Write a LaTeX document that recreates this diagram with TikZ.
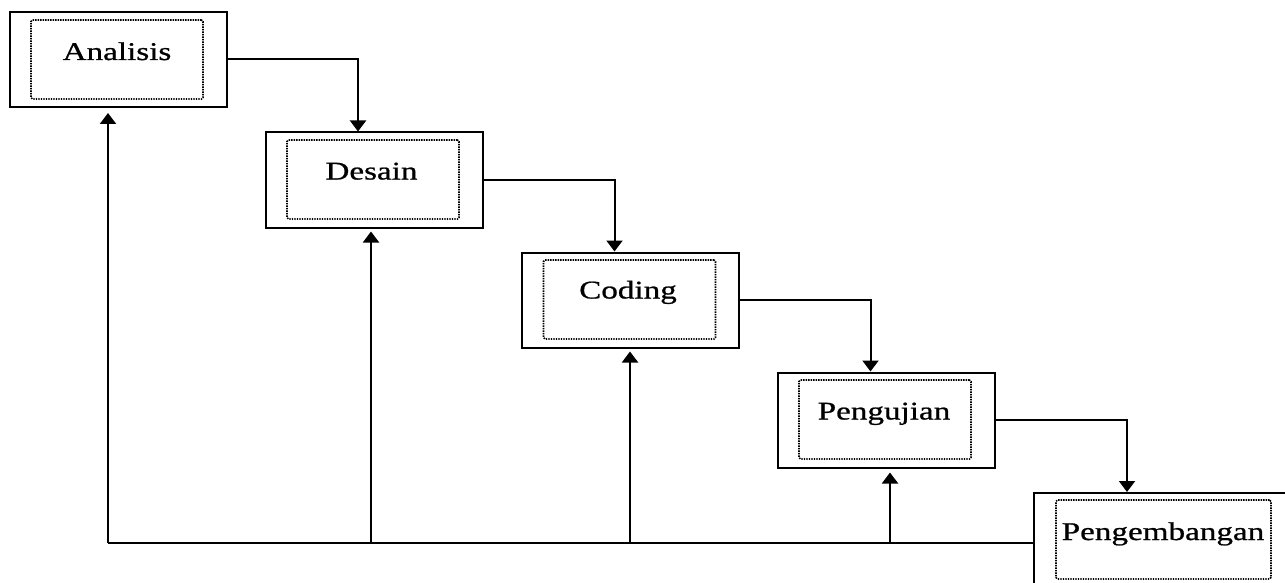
\documentclass[tikz,border=0pt]{standalone}
\usepackage{fontspec}
\newfontfamily\lblfont[FakeStretch=1.3,FakeBold=0.8]{Liberation Serif}
\usetikzlibrary{arrows.meta,calc}
\tikzset{
  outerbox/.style={draw=black, line width=2pt, minimum width=217pt, minimum height=95pt, inner sep=0pt},
  innerbox/.style={draw=black, line width=1.6pt, dash pattern=on 1.4pt off 1.1pt, rounded corners=1.5pt, minimum width=172pt, minimum height=79pt, inner sep=0pt},
  lbl/.style={font=\lblfont\fontsize{25.5}{30}\selectfont, anchor=base, inner sep=0pt},
  conn/.style={draw=black, line width=2pt},
  arr/.style={conn, -{Triangle[width=16pt,length=11pt]}},
}
\begin{document}
\begin{tikzpicture}[x=1pt,y=-1pt]
\useasboundingbox (0,0) rectangle (1285,583);
\clip (0,0) rectangle (1285,583);
% boxes
\node[outerbox] (A) at (118.5,59.5) {};
\node[innerbox] (Ai) at (117,59.5) {};
\node[lbl] (At) at (117,60) {Analisis};

\node[outerbox] (B) at (374,180) {};
\node[innerbox] (Bi) at (373,179.5) {};
\node[lbl] (Bt) at (371.5,179.5) {Desain};

\node[outerbox] (C) at (630.5,300) {};
\node[innerbox] (Ci) at (629.5,299.5) {};
\node[lbl] (Ct) at (628,298.5) {Coding};

\node[outerbox] (D) at (886.5,420) {};
\node[innerbox] (Di) at (885,419.5) {};
\node[lbl] (Dt) at (884,419.5) {Pengujian};

\node[outerbox, minimum width=266pt] (E) at (1167,540.5) {};
\node[innerbox, minimum width=215pt] (Ei) at (1163.5,539.5) {};
\node[lbl] (Et) at (1163,540) {Pengembangan};

% forward connectors
\draw[arr] (A.east) -| ([xshift=-16pt]B.north);
\draw[arr] (B.east) -| ([xshift=-16pt]C.north);
\draw[arr] (C.east) -| ([xshift=-16pt]D.north);
\draw[arr] (D.east) -| ([xshift=-40pt]E.north);

% feedback
\coordinate (fA) at (108,543);
\coordinate (fB) at (371,543);
\coordinate (fC) at (630,543);
\coordinate (fD) at (890,543);
\draw[conn] (E.west |- fA) -- (fA);
\draw[arr, shorten >=5pt] (fA) -- (fA |- A.south);
\draw[arr, shorten >=3pt] (fB) -- (fB |- B.south);
\draw[arr, shorten >=3pt] (fC) -- (fC |- C.south);
\draw[arr, shorten >=4pt] (fD) -- (fD |- D.south);
\end{tikzpicture}
\end{document}
